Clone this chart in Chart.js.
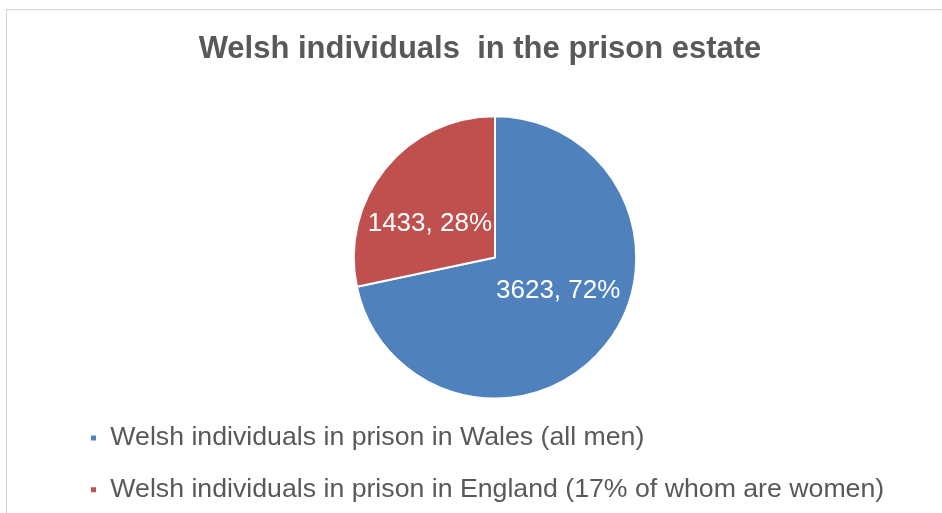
<!DOCTYPE html>
<html>
<head>
<meta charset="utf-8">
<title>Welsh individuals in the prison estate</title>
<script src="https://cdn.jsdelivr.net/npm/chart.js@4.4.1/dist/chart.umd.min.js"></script>
<style>
  html, body { margin: 0; padding: 0; background: #fff; }
  #wrap { position: relative; width: 942px; height: 513px; }
  #frame {
    position: absolute; left: 6px; top: 9px; right: 0; bottom: 0;
    border-top: 1px solid #d4d4d4; border-left: 1px solid #d4d4d4;
    pointer-events: none;
  }
</style>
</head>
<body>
<div id="wrap">
  <canvas id="chart-canvas"></canvas>
  <div id="frame"></div>
</div>
<script>
const chartTitle = "Welsh individuals  in the prison estate";
const categories = [
  "Welsh individuals in prison in Wales (all men)",
  "Welsh individuals in prison in England (17% of whom are women)"
];
const prisoners = [3623, 1433];
const sliceColors = ["#4F81BD", "#C0504D"];

const textGrey = "#595959";
const fontFamily = "'Liberation Sans', Arial, sans-serif";

// writes "value, percent%" inside each slice, kept on its own side of the centre line
const sliceLabels = {
  id: "sliceLabels",
  afterDatasetsDraw(chart) {
    const ctx = chart.ctx;
    const meta = chart.getDatasetMeta(0);
    const total = prisoners.reduce((a, b) => a + b, 0);
    ctx.save();
    ctx.font = "26px " + fontFamily;
    ctx.fillStyle = "#ffffff";
    ctx.textAlign = "center";
    ctx.textBaseline = "middle";
    meta.data.forEach((arc, i) => {
      const p = arc.getProps(["x", "y", "startAngle", "endAngle", "outerRadius"], true);
      const mid = (p.startAngle + p.endAngle) / 2;
      const r = p.outerRadius * 0.38;
      const pct = Math.round(prisoners[i] / total * 100);
      const text = prisoners[i] + ", " + pct + "%";
      const half = ctx.measureText(text).width / 2;
      let lx = p.x + Math.cos(mid) * r;
      const ly = p.y + Math.sin(mid) * r;
      if (Math.cos(mid) < 0) lx = Math.min(lx, p.x - 3 - half);
      else lx = Math.max(lx, p.x + 1 + half);
      ctx.fillText(text, lx, ly);
    });
    ctx.restore();
  }
};

document.addEventListener("DOMContentLoaded", function () {
  const ctx = document.getElementById("chart-canvas").getContext("2d");

  new Chart(ctx, {
    type: "pie",
    data: {
      labels: categories,
      datasets: [{
        data: prisoners,
        backgroundColor: sliceColors,
        borderColor: "#ffffff",
        borderWidth: 2
      }]
    },
    options: {
      responsive: true,
      maintainAspectRatio: false,
      animation: false,
      events: [],
      layout: { padding: { left: 65, right: 47, top: 0, bottom: 0 } },
      plugins: {
        title: {
          display: true,
          text: chartTitle,
          color: textGrey,
          font: { family: fontFamily, size: 31, weight: "bold", lineHeight: 1.2 },
          padding: { top: 31, bottom: 47 }
        },
        // empty spacer on the left, nudges the pie right of the title centre
        subtitle: {
          display: true,
          position: "left",
          fullSize: false,
          text: "",
          font: { size: 10, lineHeight: 1 },
          padding: { top: 10, bottom: 10 }
        },
        legend: {
          position: "bottom",
          align: "start",
          labels: {
            boxWidth: 7,
            boxHeight: 7,
            padding: 25,
            color: textGrey,
            font: { family: fontFamily, size: 26.7 }
          }
        },
        tooltip: { enabled: false }
      }
    },
    plugins: [sliceLabels]
  });
});
</script>
</body>
</html>
